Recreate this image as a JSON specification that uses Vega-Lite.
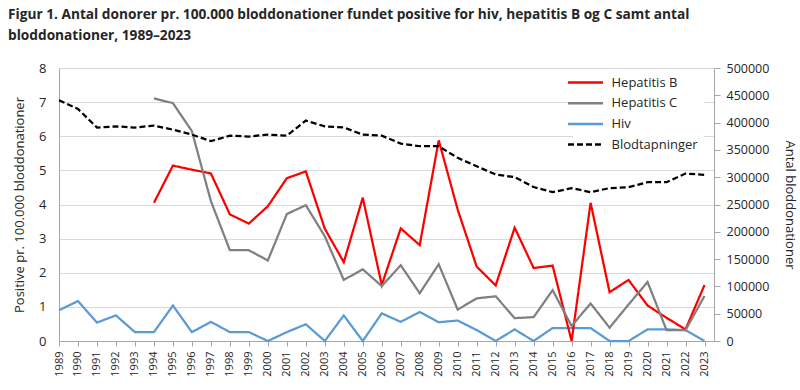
{
  "$schema": "https://vega.github.io/schema/vega-lite/v6.json",
  "width": 655,
  "height": 273,
  "autosize": {"type": "none"},
  "padding": {"left": 59, "top": 68, "right": 86, "bottom": 49},
  "background": "white",
  "title": {
    "text": ["Figur 1. Antal donorer pr. 100.000 bloddonationer fundet positive for hiv, hepatitis B og C samt antal", "bloddonationer, 1989–2023"],
    "anchor": "start",
    "frame": "group",
    "dx": -51,
    "offset": 19,
    "font": "Open Sans",
    "fontSize": 13.7,
    "fontWeight": "bold",
    "color": "#262626",
    "lineHeight": 21
  },
  "datasets": {
    "rates": [
      {"year": 1989, "series": "Hiv", "value": 0.90},
      {"year": 1990, "series": "Hiv", "value": 1.17},
      {"year": 1991, "series": "Hiv", "value": 0.54},
      {"year": 1992, "series": "Hiv", "value": 0.75},
      {"year": 1993, "series": "Hiv", "value": 0.26},
      {"year": 1994, "series": "Hiv", "value": 0.26},
      {"year": 1995, "series": "Hiv", "value": 1.04},
      {"year": 1996, "series": "Hiv", "value": 0.26},
      {"year": 1997, "series": "Hiv", "value": 0.56},
      {"year": 1998, "series": "Hiv", "value": 0.26},
      {"year": 1999, "series": "Hiv", "value": 0.26},
      {"year": 2000, "series": "Hiv", "value": 0},
      {"year": 2001, "series": "Hiv", "value": 0.26},
      {"year": 2002, "series": "Hiv", "value": 0.49},
      {"year": 2003, "series": "Hiv", "value": 0},
      {"year": 2004, "series": "Hiv", "value": 0.75},
      {"year": 2005, "series": "Hiv", "value": 0},
      {"year": 2006, "series": "Hiv", "value": 0.81},
      {"year": 2007, "series": "Hiv", "value": 0.56},
      {"year": 2008, "series": "Hiv", "value": 0.85},
      {"year": 2009, "series": "Hiv", "value": 0.55},
      {"year": 2010, "series": "Hiv", "value": 0.60},
      {"year": 2011, "series": "Hiv", "value": 0.32},
      {"year": 2012, "series": "Hiv", "value": 0},
      {"year": 2013, "series": "Hiv", "value": 0.34},
      {"year": 2014, "series": "Hiv", "value": 0},
      {"year": 2015, "series": "Hiv", "value": 0.38},
      {"year": 2016, "series": "Hiv", "value": 0.38},
      {"year": 2017, "series": "Hiv", "value": 0.38},
      {"year": 2018, "series": "Hiv", "value": 0},
      {"year": 2019, "series": "Hiv", "value": 0},
      {"year": 2020, "series": "Hiv", "value": 0.34},
      {"year": 2021, "series": "Hiv", "value": 0.34},
      {"year": 2022, "series": "Hiv", "value": 0.32},
      {"year": 2023, "series": "Hiv", "value": 0},
      {"year": 1994, "series": "Hepatitis B", "value": 4.05},
      {"year": 1995, "series": "Hepatitis B", "value": 5.14},
      {"year": 1996, "series": "Hepatitis B", "value": 5.02},
      {"year": 1997, "series": "Hepatitis B", "value": 4.91},
      {"year": 1998, "series": "Hepatitis B", "value": 3.71},
      {"year": 1999, "series": "Hepatitis B", "value": 3.44},
      {"year": 2000, "series": "Hepatitis B", "value": 3.95},
      {"year": 2001, "series": "Hepatitis B", "value": 4.77},
      {"year": 2002, "series": "Hepatitis B", "value": 4.97},
      {"year": 2003, "series": "Hepatitis B", "value": 3.29},
      {"year": 2004, "series": "Hepatitis B", "value": 2.31},
      {"year": 2005, "series": "Hepatitis B", "value": 4.20},
      {"year": 2006, "series": "Hepatitis B", "value": 1.64},
      {"year": 2007, "series": "Hepatitis B", "value": 3.30},
      {"year": 2008, "series": "Hepatitis B", "value": 2.81},
      {"year": 2009, "series": "Hepatitis B", "value": 5.88},
      {"year": 2010, "series": "Hepatitis B", "value": 3.85},
      {"year": 2011, "series": "Hepatitis B", "value": 2.18},
      {"year": 2012, "series": "Hepatitis B", "value": 1.63},
      {"year": 2013, "series": "Hepatitis B", "value": 3.32},
      {"year": 2014, "series": "Hepatitis B", "value": 2.14},
      {"year": 2015, "series": "Hepatitis B", "value": 2.21},
      {"year": 2016, "series": "Hepatitis B", "value": 0},
      {"year": 2017, "series": "Hepatitis B", "value": 4.05},
      {"year": 2018, "series": "Hepatitis B", "value": 1.43},
      {"year": 2019, "series": "Hepatitis B", "value": 1.79},
      {"year": 2020, "series": "Hepatitis B", "value": 1.04},
      {"year": 2021, "series": "Hepatitis B", "value": 0.68},
      {"year": 2022, "series": "Hepatitis B", "value": 0.34},
      {"year": 2023, "series": "Hepatitis B", "value": 1.64},
      {"year": 1994, "series": "Hepatitis C", "value": 7.11},
      {"year": 1995, "series": "Hepatitis C", "value": 6.97},
      {"year": 1996, "series": "Hepatitis C", "value": 6.15},
      {"year": 1997, "series": "Hepatitis C", "value": 4.10},
      {"year": 1998, "series": "Hepatitis C", "value": 2.66},
      {"year": 1999, "series": "Hepatitis C", "value": 2.66},
      {"year": 2000, "series": "Hepatitis C", "value": 2.36},
      {"year": 2001, "series": "Hepatitis C", "value": 3.72},
      {"year": 2002, "series": "Hepatitis C", "value": 3.98},
      {"year": 2003, "series": "Hepatitis C", "value": 3.07},
      {"year": 2004, "series": "Hepatitis C", "value": 1.79},
      {"year": 2005, "series": "Hepatitis C", "value": 2.10},
      {"year": 2006, "series": "Hepatitis C", "value": 1.61},
      {"year": 2007, "series": "Hepatitis C", "value": 2.22},
      {"year": 2008, "series": "Hepatitis C", "value": 1.40},
      {"year": 2009, "series": "Hepatitis C", "value": 2.25},
      {"year": 2010, "series": "Hepatitis C", "value": 0.92},
      {"year": 2011, "series": "Hepatitis C", "value": 1.25},
      {"year": 2012, "series": "Hepatitis C", "value": 1.31},
      {"year": 2013, "series": "Hepatitis C", "value": 0.67},
      {"year": 2014, "series": "Hepatitis C", "value": 0.70},
      {"year": 2015, "series": "Hepatitis C", "value": 1.49},
      {"year": 2016, "series": "Hepatitis C", "value": 0.44},
      {"year": 2017, "series": "Hepatitis C", "value": 1.10},
      {"year": 2018, "series": "Hepatitis C", "value": 0.39},
      {"year": 2019, "series": "Hepatitis C", "value": 1.07},
      {"year": 2020, "series": "Hepatitis C", "value": 1.73},
      {"year": 2021, "series": "Hepatitis C", "value": 0.32},
      {"year": 2022, "series": "Hepatitis C", "value": 0.32},
      {"year": 2023, "series": "Hepatitis C", "value": 1.32}
    ],
    "donations": [
      {"year": 1989, "series": "Blodtapninger", "value": 441000},
      {"year": 1990, "series": "Blodtapninger", "value": 425000},
      {"year": 1991, "series": "Blodtapninger", "value": 391000},
      {"year": 1992, "series": "Blodtapninger", "value": 393000},
      {"year": 1993, "series": "Blodtapninger", "value": 391000},
      {"year": 1994, "series": "Blodtapninger", "value": 394500},
      {"year": 1995, "series": "Blodtapninger", "value": 387000},
      {"year": 1996, "series": "Blodtapninger", "value": 378000},
      {"year": 1997, "series": "Blodtapninger", "value": 366000},
      {"year": 1998, "series": "Blodtapninger", "value": 376000},
      {"year": 1999, "series": "Blodtapninger", "value": 374500},
      {"year": 2000, "series": "Blodtapninger", "value": 378000},
      {"year": 2001, "series": "Blodtapninger", "value": 376000},
      {"year": 2002, "series": "Blodtapninger", "value": 403700},
      {"year": 2003, "series": "Blodtapninger", "value": 393000},
      {"year": 2004, "series": "Blodtapninger", "value": 391000},
      {"year": 2005, "series": "Blodtapninger", "value": 378000},
      {"year": 2006, "series": "Blodtapninger", "value": 376000},
      {"year": 2007, "series": "Blodtapninger", "value": 361600},
      {"year": 2008, "series": "Blodtapninger", "value": 356700},
      {"year": 2009, "series": "Blodtapninger", "value": 356700},
      {"year": 2010, "series": "Blodtapninger", "value": 335400},
      {"year": 2011, "series": "Blodtapninger", "value": 320000},
      {"year": 2012, "series": "Blodtapninger", "value": 305000},
      {"year": 2013, "series": "Blodtapninger", "value": 300000},
      {"year": 2014, "series": "Blodtapninger", "value": 282000},
      {"year": 2015, "series": "Blodtapninger", "value": 272600},
      {"year": 2016, "series": "Blodtapninger", "value": 280000},
      {"year": 2017, "series": "Blodtapninger", "value": 272600},
      {"year": 2018, "series": "Blodtapninger", "value": 280000},
      {"year": 2019, "series": "Blodtapninger", "value": 281700},
      {"year": 2020, "series": "Blodtapninger", "value": 290900},
      {"year": 2021, "series": "Blodtapninger", "value": 290900},
      {"year": 2022, "series": "Blodtapninger", "value": 306700},
      {"year": 2023, "series": "Blodtapninger", "value": 304300}
    ]
  },
  "encoding": {
    "x": {
      "field": "year",
      "type": "quantitative",
      "scale": {"domain": [1989, 2023.5], "nice": false, "zero": false},
      "axis": {
        "title": null,
        "values": [1989,1990,1991,1992,1993,1994,1995,1996,1997,1998,1999,2000,2001,2002,2003,2004,2005,2006,2007,2008,2009,2010,2011,2012,2013,2014,2015,2016,2017,2018,2019,2020,2021,2022,2023],
        "format": "d",
        "labelAngle": 270,
        "labelAlign": "right",
        "labelBaseline": "middle",
        "labelFontSize": 11,
        "labelPadding": 5,
        "tickSize": 5,
        "grid": false,
        "labelOverlap": false,
        "labelFlush": false
      }
    },
    "color": {
      "field": "series",
      "type": "nominal",
      "title": null,
      "scale": {
        "domain": ["Hepatitis B", "Hepatitis C", "Hiv", "Blodtapninger"],
        "range": ["#ff0000", "#808080", "#5b9bd5", "#000000"]
      }
    },
    "strokeDash": {
      "field": "series",
      "type": "nominal",
      "title": null,
      "scale": {
        "domain": ["Hepatitis B", "Hepatitis C", "Hiv", "Blodtapninger"],
        "range": [[1, 0], [1, 0], [1, 0], [6, 3]]
      }
    }
  },
  "layer": [
    {
      "data": {"name": "rates"},
      "mark": {"type": "line", "strokeWidth": 2.25},
      "encoding": {
        "y": {
          "field": "value",
          "type": "quantitative",
          "scale": {"domain": [0, 8], "nice": false},
          "axis": {
            "title": "Positive pr. 100.000 bloddonationer",
            "values": [0,1,2,3,4,5,6,7,8],
            "grid": true,
            "ticks": false,
            "tickSize": 0,
            "labelPadding": 13,
            "labelFontSize": 13,
            "titlePadding": 12
          }
        }
      }
    },
    {
      "data": {"name": "donations"},
      "mark": {"type": "line", "strokeWidth": 2.25},
      "encoding": {
        "y": {
          "field": "value",
          "type": "quantitative",
          "scale": {"domain": [0, 500000], "nice": false},
          "axis": {
            "orient": "right",
            "title": "Antal bloddonationer",
            "values": [0,50000,100000,150000,200000,250000,300000,350000,400000,450000,500000],
            "format": "d",
            "grid": false,
            "tickSize": 6,
            "labelPadding": 6,
            "labelFontSize": 12.5,
            "titlePadding": 14
          }
        }
      }
    }
  ],
  "resolve": {"scale": {"y": "independent"}},
  "config": {
    "view": {"stroke": null},
    "font": "Open Sans",
    "axis": {
      "domainColor": "#a6a6a6",
      "tickColor": "#a6a6a6",
      "gridColor": "#d9d9d9",
      "labelColor": "#262626",
      "titleColor": "#262626",
      "labelFont": "Open Sans",
      "titleFont": "Open Sans",
      "titleFontWeight": "normal",
      "titleFontSize": 13
    },
    "legend": {
      "orient": "none",
      "legendX": 514,
      "legendY": 2,
      "padding": 6,
      "fillColor": "white",
      "symbolType": "M-3.5,0H3.5",
      "symbolSize": 100,
      "symbolStrokeWidth": 2.5,
      "labelFontSize": 13,
      "labelFont": "Open Sans",
      "labelColor": "#262626",
      "labelOffset": 19.5,
      "rowPadding": 6.7
    }
  }
}
